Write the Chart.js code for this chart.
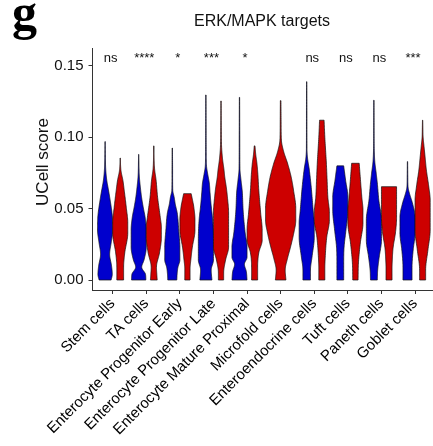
<!DOCTYPE html>
<html>
<head>
<meta charset="utf-8">
<script src="https://cdn.jsdelivr.net/npm/chart.js@4"></script>
<style>
  html, body { margin: 0; padding: 0; background: #fff; }
  canvas { display: block; }
</style>
</head>
<body>
<canvas id="chart" width="433" height="446"></canvas>
<script>
// Cell types on the x axis
const categories = [
  'Stem cells', 'TA cells', 'Enterocyte Progenitor Early', 'Enterocyte Progenitor Late',
  'Enterocyte Mature Proximal', 'Microfold cells', 'Enteroendocrine cells',
  'Tuft cells', 'Paneth cells', 'Goblet cells'
];

// Significance of the group comparison per cell type
const significance = ['ns', '****', '*', '***', '*', '', 'ns', 'ns', 'ns', '***'];

const yTicks = [0, 0.05, 0.10, 0.15];

// Density profiles of the UCell score: [score, relative density (1 = widest)]
const blueProfiles = [
  [[0,0.8],[0.004,0.95],[0.01,0.85],[0.018,0.6],[0.026,0.8],[0.035,1.0],[0.045,0.95],[0.055,0.7],[0.063,0.45],[0.07,0.22],[0.078,0.08],[0.086,0.04],[0.097,0.02]],
  [[0,0.95],[0.004,0.9],[0.009,0.4],[0.014,0.7],[0.023,1.0],[0.035,1.0],[0.044,0.85],[0.051,0.6],[0.058,0.38],[0.065,0.22],[0.073,0.08],[0.08,0.04],[0.088,0.02]],
  [[0,0.6],[0.005,0.65],[0.009,0.75],[0.014,1.0],[0.023,1.0],[0.035,0.85],[0.047,0.65],[0.053,0.4],[0.058,0.25],[0.063,0.06],[0.075,0.04],[0.0925,0.02]],
  [[0,0.8],[0.007,0.7],[0.014,1.0],[0.028,1.0],[0.042,0.9],[0.052,0.7],[0.061,0.55],[0.068,0.45],[0.074,0.25],[0.08,0.08],[0.09,0.04],[0.105,0.03],[0.1297,0.02]],
  [[0,1.0],[0.006,0.9],[0.011,0.65],[0.016,1.0],[0.023,1.0],[0.033,0.75],[0.047,0.5],[0.063,0.35],[0.07,0.2],[0.078,0.06],[0.093,0.04],[0.128,0.02]],
  null,
  [[0,0.5],[0.007,0.5],[0.016,0.7],[0.03,1.0],[0.04,1.0],[0.049,0.85],[0.065,0.6],[0.077,0.35],[0.086,0.1],[0.092,0.04],[0.115,0.03],[0.139,0.02]],
  [[0,0.45],[0.012,0.45],[0.023,0.5],[0.035,0.75],[0.049,1.0],[0.058,1.0],[0.07,0.7],[0.08,0.45]],
  [[0,0.45],[0.007,0.5],[0.016,0.7],[0.028,1.0],[0.042,1.0],[0.056,0.65],[0.068,0.45],[0.075,0.3],[0.083,0.12],[0.091,0.05],[0.105,0.03],[0.126,0.02]],
  [[0,0.6],[0.009,0.6],[0.021,0.75],[0.033,1.0],[0.044,1.0],[0.054,0.65],[0.06,0.3],[0.065,0.08],[0.072,0.04],[0.083,0.02]]
];

const redProfiles = [
  [[0,0.45],[0.009,0.45],[0.019,0.6],[0.033,1.0],[0.04,1.0],[0.051,0.8],[0.062,0.55],[0.07,0.35],[0.076,0.12],[0.08,0.05],[0.0855,0.02]],
  [[0,0.45],[0.004,0.4],[0.009,0.35],[0.019,0.75],[0.03,1.0],[0.037,1.0],[0.044,0.85],[0.058,0.5],[0.07,0.3],[0.078,0.1],[0.085,0.04],[0.094,0.02]],
  [[0,0.35],[0.008,0.35],[0.014,0.45],[0.023,0.65],[0.035,1.0],[0.042,1.0],[0.051,0.85],[0.0605,0.5]],
  [[0,0.35],[0.005,0.35],[0.014,0.6],[0.023,1.0],[0.047,1.0],[0.058,0.85],[0.065,0.7],[0.072,0.5],[0.077,0.4],[0.085,0.2],[0.093,0.08],[0.105,0.04],[0.1255,0.02]],
  [[0,0.4],[0.009,0.4],[0.019,0.55],[0.028,1.0],[0.035,1.0],[0.047,0.8],[0.063,0.55],[0.075,0.42],[0.082,0.3],[0.088,0.15],[0.094,0.05]],
  [[0,0.35],[0.007,0.3],[0.015,0.45],[0.023,0.65],[0.032,0.85],[0.042,1.0],[0.05,1.0],[0.063,0.85],[0.072,0.7],[0.082,0.45],[0.09,0.2],[0.098,0.05],[0.11,0.03],[0.1257,0.02]],
  [[0,0.4],[0.008,0.4],[0.016,0.45],[0.03,0.65],[0.042,1.0],[0.047,1.0],[0.058,0.8],[0.07,0.7],[0.082,0.6],[0.1,0.4],[0.112,0.3]],
  [[0,0.35],[0.012,0.4],[0.026,0.65],[0.04,1.0],[0.049,1.0],[0.058,0.85],[0.068,0.7],[0.0818,0.5]],
  [[0,0.4],[0.008,0.4],[0.016,0.45],[0.023,0.55],[0.033,0.85],[0.044,1.0],[0.0654,1.0]],
  [[0,0.4],[0.007,0.4],[0.021,0.7],[0.035,1.0],[0.056,1.0],[0.066,0.8],[0.077,0.5],[0.085,0.35],[0.093,0.2],[0.1,0.07],[0.106,0.04],[0.112,0.02]]
];

const blueFill = '#0000CD';
const redFill = '#CD0000';
const inkColor = '#111111';
const axisColor = '#333333';

// Monotone cubic resampling of a density profile so the outline stays smooth
function resample(profile, steps) {
  const xs = profile.map(p => p[0]);
  const ys = profile.map(p => p[1]);
  const k = xs.length;
  const d = [], m = [];
  for (let i = 0; i < k - 1; i++) d[i] = (ys[i + 1] - ys[i]) / (xs[i + 1] - xs[i]);
  m[0] = d[0];
  m[k - 1] = d[k - 2];
  for (let i = 1; i < k - 1; i++) m[i] = d[i - 1] * d[i] <= 0 ? 0 : (d[i - 1] + d[i]) / 2;
  for (let i = 0; i < k - 1; i++) {
    if (d[i] === 0) { m[i] = 0; m[i + 1] = 0; continue; }
    const a = m[i] / d[i], b = m[i + 1] / d[i];
    const s = a * a + b * b;
    if (s > 9) { const t = 3 / Math.sqrt(s); m[i] = t * a * d[i]; m[i + 1] = t * b * d[i]; }
  }
  const out = [];
  for (let i = 0; i < k - 1; i++) {
    const h = xs[i + 1] - xs[i];
    for (let j = 0; j < steps; j++) {
      const t = j / steps, t2 = t * t, t3 = t2 * t;
      const v = (2 * t3 - 3 * t2 + 1) * ys[i] + (t3 - 2 * t2 + t) * h * m[i] +
                (-2 * t3 + 3 * t2) * ys[i + 1] + (t3 - t2) * h * m[i + 1];
      out.push([xs[i] + t * h, Math.max(0, v)]);
    }
  }
  out.push([xs[k - 1], ys[k - 1]]);
  return out;
}

function drawViolin(ctx, xScale, yScale, center, halfWidth, profile, fill) {
  const pts = resample(profile, 12);
  ctx.beginPath();
  pts.forEach((p, i) => {
    const px = xScale.getPixelForValue(center + halfWidth * p[1]);
    const py = yScale.getPixelForValue(p[0]);
    if (i === 0) ctx.moveTo(px, py); else ctx.lineTo(px, py);
  });
  for (let i = pts.length - 1; i >= 0; i--) {
    const p = pts[i];
    ctx.lineTo(xScale.getPixelForValue(center - halfWidth * p[1]), yScale.getPixelForValue(p[0]));
  }
  ctx.closePath();
  ctx.fillStyle = fill;
  ctx.fill();
  ctx.lineWidth = 0.7;
  ctx.strokeStyle = '#111';
  ctx.stroke();
}

const violinPlugin = {
  id: 'violins',
  beforeDatasetsDraw(chart) {
    const { ctx, scales: { x, y } } = chart;
    ctx.save();
    categories.forEach((_, i) => {
      const pos = i + 1;
      const b = blueProfiles[i], r = redProfiles[i];
      if (b && r) {
        drawViolin(ctx, x, y, pos - 0.225, 0.225, b, blueFill);
        drawViolin(ctx, x, y, pos + 0.225, 0.225, r, redFill);
      } else if (b) {
        drawViolin(ctx, x, y, pos, 0.45, b, blueFill);
      } else if (r) {
        drawViolin(ctx, x, y, pos, 0.45, r, redFill);
      }
    });
    ctx.restore();
  },
  afterDraw(chart) {
    const { ctx, scales: { x, y }, chartArea } = chart;
    ctx.save();
    // panel letter
    ctx.fillStyle = '#000';
    ctx.font = 'bold 50px "Liberation Serif", "DejaVu Serif", serif';
    ctx.textAlign = 'left';
    ctx.textBaseline = 'alphabetic';
    ctx.fillText('g', 12, 29);
    // title
    ctx.fillStyle = inkColor;
    ctx.font = '16px "Liberation Sans", Arial, sans-serif';
    ctx.textAlign = 'center';
    ctx.textBaseline = 'middle';
    ctx.fillText('ERK/MAPK targets', 262, 22);
    // significance labels
    ctx.font = '13px "Liberation Sans", Arial, sans-serif';
    significance.forEach((s, i) => {
      if (s) ctx.fillText(s, x.getPixelForValue(i + 1) - 2, y.getPixelForValue(0.1555));
    });
    // y axis title
    ctx.font = '17px "Liberation Sans", Arial, sans-serif';
    ctx.translate(43, (chartArea.top + y.getPixelForValue(-0.007)) / 2 - 7);
    ctx.rotate(-Math.PI / 2);
    ctx.fillText('UCell score', 0, 0);
    ctx.restore();
  }
};

new Chart(document.getElementById('chart'), {
  type: 'scatter',
  data: { datasets: [{ data: [] }] },
  options: {
    responsive: false,
    animation: false,
    layout: { padding: { top: 48, left: 0, right: 0, bottom: 0 } },
    plugins: { legend: { display: false }, tooltip: { enabled: false } },
    scales: {
      x: {
        type: 'linear',
        min: 0.4,
        max: 10.534,
        afterBuildTicks: s => { s.ticks = categories.map((_, i) => ({ value: i + 1 })); },
        afterFit: s => { s.height = 156; },
        grid: { drawOnChartArea: false, tickLength: 4, color: axisColor, lineWidth: 1 },
        border: { color: axisColor, width: 1 },
        ticks: {
          autoSkip: false,
          minRotation: 45,
          maxRotation: 45,
          padding: 1,
          color: '#000',
          font: { family: '"Liberation Sans", Arial, sans-serif', size: 15 },
          callback: v => categories[Math.round(v) - 1]
        }
      },
      y: {
        min: -0.007,
        max: 0.1626,
        afterBuildTicks: s => { s.ticks = yTicks.map(v => ({ value: v })); },
        afterFit: s => { s.width = 92.5; },
        grid: { drawOnChartArea: false, tickLength: 4, color: axisColor, lineWidth: 1 },
        border: { color: axisColor, width: 1 },
        ticks: {
          padding: 5,
          color: inkColor,
          font: { family: '"Liberation Sans", Arial, sans-serif', size: 15 },
          callback: v => v.toFixed(2)
        }
      }
    }
  },
  plugins: [violinPlugin]
});
</script>
</body>
</html>
